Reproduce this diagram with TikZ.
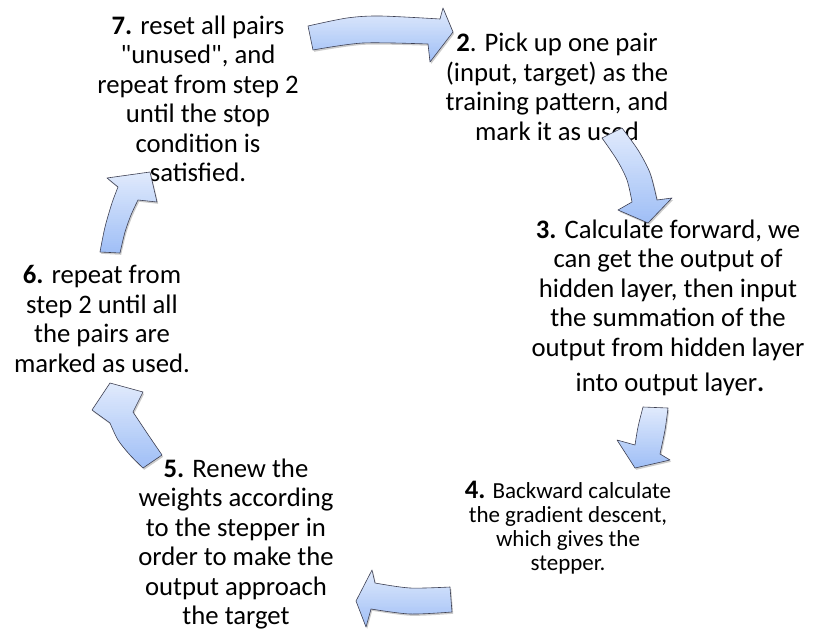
\documentclass[tikz,border=0pt]{standalone}
\usepackage{fontspec}
\setmainfont{Carlito}
\definecolor{arrowtop}{HTML}{E0EAFC}
\definecolor{arrowbot}{HTML}{A0BFF6}
\definecolor{arrowline}{HTML}{3E4052}
\tikzset{
  arrowedge/.style={draw=arrowline, line width=0.6pt, line join=round},
  arrowshadow/.style={fill=black, opacity=0.2, shift={(1.2,1.8)}},
  steptext/.style={align=center, inner sep=0pt, font=\fontsize{26.7}{29.5}\selectfont},
  smalltext/.style={align=center, inner sep=0pt, font=\fontsize{23}{24}\selectfont},
}
% outlines of the six block arrows
\newcommand\arrowOne{plot[smooth] coordinates {(308,26) (347,18) (380,16) (440,19)}
  -- (443,8) -- (453,32) -- (430,62)
  -- plot[smooth] coordinates {(428,44) (363,43) (313,50)} -- cycle}
\newcommand\arrowTwo{plot[smooth] coordinates {(602,138) (617,160) (627,180) (632,202)}
  -- (618,210) -- (648,223) -- (672,198)
  -- plot[smooth] coordinates {(657,200) (650,173) (638,150) (622,128)} -- cycle}
\newcommand\arrowThree{plot[smooth] coordinates {(643,407) (638,427) (635,445)}
  -- (617,440) -- (635,468) -- (670,460)
  -- plot[smooth] coordinates {(660,454) (665,430) (668,408)} -- cycle}
\newcommand\arrowFour{plot[smooth] coordinates {(450,587) (410,588) (375,583)}
  -- (372,570) -- (356,601) -- (366,627)
  -- plot[smooth] coordinates {(371,609) (410,614) (452,612)} -- cycle}
\newcommand\arrowFive{plot[smooth] coordinates {(143,468) (130,455) (118,440) (110,423)}
  -- (92,410) -- (110,383) -- (143,392)
  -- plot[smooth] coordinates {(133,412) (147,433) (162,455)} -- cycle}
\newcommand\arrowSix{plot[smooth] coordinates {(100,252) (105,227) (112,203) (118,187)}
  -- (107,178) -- (150,172) -- (157,202)
  -- plot[smooth] coordinates {(138,200) (131,215) (125,232) (120,253)} -- cycle}
% shadow, top-to-bottom colour ramp in thin strips, then the outline
\newcommand\gradarrow[3]{%
  \fill[arrowshadow] #1;
  \begin{scope}
    \clip #1;
    \foreach \k in {0,...,39} {
      \pgfmathsetmacro\pc{100-\k*100/39}
      \fill[arrowtop!\pc!arrowbot] (0,{#2+(#3-#2)*\k/40}) rectangle (816,{#2+(#3-#2)*(\k+1)/40+0.6});
    }
  \end{scope}
  \path[arrowedge] #1;
}
\begin{document}
\begin{tikzpicture}[x=1pt, y=-1pt]
\useasboundingbox (0,0) rectangle (816,639);

% step texts
\node[steptext] (s7) at (198,99) {\textbf{7.} reset all pairs\\\textquotedbl unused\textquotedbl, and\\repeat from step 2\\until the stop\\condition is\\satisfied.};
\node[steptext] (s2) at (557,87) {\textbf{2}. Pick up one pair\\(input, target) as the\\training pattern, and\\mark it as used};
\node[steptext] (s3) at (668,290) {\textbf{3.} Calculate forward, we\\can get the output of\\hidden layer, then input\\the summation of the\\output from hidden layer};
\node[steptext] (s3b) at (670,384) {into output layer\textbf{.}};
\node[smalltext] (s4) at (568,528) {{\fontsize{26.7}{24}\selectfont\textbf{4.}} Backward calculate\\the gradient descent,\\which gives the\\stepper.};
\node[steptext] (s5) at (236,544) {\textbf{5.} Renew the\\weights according\\to the stepper in\\order to make the\\output approach\\the target};
\node[steptext] (s6) at (102,319) {\textbf{6.} repeat from\\step 2 until all\\the pairs are\\marked as used.};

% block arrows between the steps
\gradarrow{\arrowOne}{8}{62}
\gradarrow{\arrowTwo}{128}{223}
\gradarrow{\arrowThree}{407}{468}
\gradarrow{\arrowFour}{570}{627}
\gradarrow{\arrowFive}{383}{468}
\gradarrow{\arrowSix}{172}{253}
\end{tikzpicture}
\end{document}
